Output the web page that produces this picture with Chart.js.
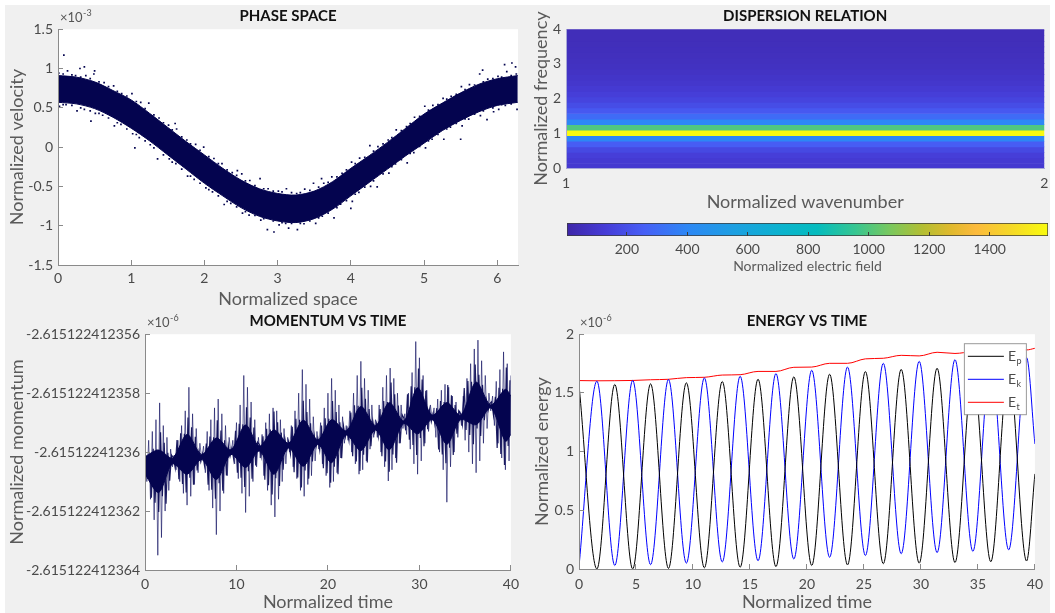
<!DOCTYPE html>
<html>
<head>
<meta charset="utf-8">
<title>Plasma simulation</title>
<script src="https://cdn.jsdelivr.net/npm/chart.js@4.4.1/dist/chart.umd.min.js"></script>
<style>
  html, body { margin: 0; padding: 0; background: #fff; }
  #fig { position: relative; width: 1055px; height: 613px; overflow: hidden; }
  #panel { position: absolute; left: 5px; top: 5px; width: 1045px; height: 608px; background: #f0f0f0; }
  canvas { position: absolute; }
</style>
</head>
<body>
<div id="fig">
  <div id="panel"></div>
  <canvas id="phaseChart" width="530" height="310" style="left:0;top:0"></canvas>
  <canvas id="dispChart" width="525" height="213" style="left:530px;top:0"></canvas>
  <canvas id="cbarChart" width="525" height="70" style="left:530px;top:210px"></canvas>
  <canvas id="momChart" width="530" height="308" style="left:0;top:305px"></canvas>
  <canvas id="energyChart" width="525" height="308" style="left:530px;top:305px"></canvas>
</div>
<script>
// ---------- phase space (velocity in units of 1e-3) ----------
const phaseX = [0, 0.25, 0.5, 0.75, 1, 1.25, 1.5, 1.75, 2, 2.25, 2.5, 2.75, 3, 3.25, 3.5, 3.75, 4, 4.25, 4.5, 4.75, 5, 5.25, 5.5, 5.75, 6, 6.28];
const phaseUpper = [0.91, 0.89, 0.83, 0.72, 0.60, 0.43, 0.25, 0.07, -0.10, -0.27, -0.42, -0.53, -0.59, -0.61, -0.56, -0.44, -0.27, -0.11, 0.06, 0.24, 0.42, 0.56, 0.69, 0.80, 0.87, 0.91];
const phaseLower = [0.57, 0.55, 0.49, 0.38, 0.24, 0.08, -0.10, -0.28, -0.46, -0.62, -0.77, -0.88, -0.94, -0.96, -0.91, -0.79, -0.62, -0.45, -0.28, -0.11, 0.05, 0.21, 0.34, 0.45, 0.53, 0.57];
// particles scattered around the edges of the dense band
const phaseDots = [
  // upper edge
  [0.01, 0.94], [0.13, 0.97], [0.24, 0.91], [0.38, 0.91], [0.49, 0.93], [0.63, 0.82], [0.76, 0.78], [0.87, 0.68],
  [1.01, 0.68], [1.13, 0.57], [1.24, 0.56], [1.38, 0.37], [1.51, 0.28], [1.62, 0.23], [1.76, 0.09], [1.88, 0.035],
  [1.99, 0.0], [2.13, -0.145], [2.24, -0.21], [2.38, -0.325], [2.51, -0.34], [2.62, -0.425], [2.76, -0.40], [2.87, -0.53],
  [3.01, -0.56], [3.12, -0.53], [3.26, -0.59], [3.37, -0.535], [3.49, -0.46], [3.63, -0.46], [3.74, -0.38], [3.88, -0.335],
  [4.01, -0.19], [4.12, -0.14], [4.26, 0.02], [4.37, 0.005], [4.51, 0.09], [4.62, 0.22], [4.76, 0.26], [4.87, 0.38],
  [5.01, 0.52], [5.12, 0.53], [5.26, 0.62], [5.37, 0.645], [5.51, 0.77], [5.62, 0.795], [5.76, 0.93], [5.87, 0.865],
  [6.01, 0.90], [6.13, 0.96], [6.26, 0.93],
  [0.07, 0.93], [0.19, 0.92], [0.31, 0.89], [0.44, 0.87], [0.56, 0.83], [0.69, 0.77], [0.81, 0.71], [0.94, 0.65],
  [1.07, 0.58], [1.19, 0.49], [1.31, 0.41], [1.44, 0.31], [1.56, 0.22], [1.69, 0.13], [1.81, 0.04], [1.94, -0.04],
  [2.06, -0.12], [2.19, -0.21], [2.31, -0.29], [2.44, -0.36], [2.56, -0.43], [2.69, -0.49], [2.81, -0.53], [2.94, -0.56],
  [3.06, -0.57], [3.19, -0.58], [3.31, -0.58], [3.44, -0.55], [3.56, -0.51], [3.69, -0.45], [3.81, -0.38], [3.94, -0.29],
  [4.06, -0.21], [4.19, -0.13], [4.31, -0.05], [4.44, 0.04], [4.56, 0.12], [4.69, 0.21], [4.81, 0.30], [4.94, 0.39],
  [5.06, 0.47], [5.19, 0.54], [5.31, 0.61], [5.44, 0.67], [5.56, 0.73], [5.69, 0.79], [5.81, 0.83], [5.94, 0.87],
  [6.06, 0.89], [6.19, 0.91],
  // lower edge
  [0.02, 0.52], [0.11, 0.54], [0.26, 0.46], [0.36, 0.48], [0.51, 0.43], [0.61, 0.405], [0.77, 0.27], [0.86, 0.29],
  [1.02, 0.17], [1.11, 0.12], [1.26, 0.03], [1.36, -0.15], [1.52, -0.15], [1.61, -0.21], [1.77, -0.37], [1.86, -0.41],
  [2.02, -0.52], [2.11, -0.57], [2.27, -0.73], [2.36, -0.715], [2.52, -0.84], [2.61, -0.865], [2.77, -0.93], [2.86, -1.05],
  [3.02, -0.99], [3.11, -0.97], [3.27, -1.05], [3.36, -0.975], [3.52, -0.97], [3.61, -0.88], [3.77, -0.90], [3.86, -0.725],
  [4.02, -0.69], [4.11, -0.575], [4.27, -0.50], [4.36, -0.505], [4.52, -0.33], [4.61, -0.215], [4.77, -0.20], [4.86, -0.07],
  [5.02, -0.01], [5.11, 0.10], [5.27, 0.10], [5.36, 0.255], [5.52, 0.27], [5.61, 0.355], [5.77, 0.40], [5.86, 0.35],
  [6.02, 0.48], [6.11, 0.53], [6.27, 0.48],
  [0.07, 0.54], [0.19, 0.53], [0.31, 0.50], [0.44, 0.46], [0.56, 0.43], [0.69, 0.37], [0.81, 0.31], [0.94, 0.23],
  [1.07, 0.16], [1.19, 0.08], [1.31, -0.01], [1.44, -0.10], [1.56, -0.19], [1.69, -0.28], [1.81, -0.37], [1.94, -0.46],
  [2.06, -0.54], [2.19, -0.62], [2.31, -0.69], [2.44, -0.76], [2.56, -0.82], [2.69, -0.87], [2.81, -0.91], [2.94, -0.94],
  [3.06, -0.96], [3.19, -0.97], [3.31, -0.97], [3.44, -0.94], [3.56, -0.90], [3.69, -0.84], [3.81, -0.77], [3.94, -0.68],
  [4.06, -0.60], [4.19, -0.51], [4.31, -0.43], [4.44, -0.34], [4.56, -0.25], [4.69, -0.16], [4.81, -0.08], [4.94, 0.01],
  [5.06, 0.08], [5.19, 0.16], [5.31, 0.23], [5.44, 0.30], [5.56, 0.36], [5.69, 0.42], [5.81, 0.46], [5.94, 0.50],
  [6.06, 0.54], [6.19, 0.55],
  // outliers
  [0.08, 1.17], [0.36, 1.02], [0.3, 1.0], [0.5, 0.97], [0.0, 0.38], [0.45, 0.33], [1.05, -0.01], [1.6, 0.3],
  [2.45, -0.3], [2.95, -1.08], [3.15, -1.03], [3.6, -0.4], [4.0, -0.78], [5.5, 0.1], [5.95, 0.45], [5.8, 0.98],
  [6.1, 1.05], [6.2, 1.07], [6.25, 1.02]
];
const phaseXTicks = [0, 1, 2, 3, 4, 5, 6];
const phaseYTicks = [-1.5, -1, -0.5, 0, 0.5, 1, 1.5];

// ---------- dispersion relation ----------
const dispFreq = [0.05, 0.21, 0.37, 0.53, 0.69, 0.85, 1.01, 1.17, 1.33, 1.49, 1.65, 1.81, 1.97, 2.13, 2.29, 2.45, 2.61, 2.77, 2.93, 3.09, 3.25, 3.41, 3.57, 3.73, 3.89, 4.05];
const dispField = [110, 115, 135, 175, 250, 400, 1590, 1000, 400, 300, 230, 190, 160, 135, 115, 100, 88, 78, 70, 64, 59, 55, 52, 49, 47, 45];
const dispYTicks = [0, 1, 2, 3, 4];
const dispXTicks = [1, 2];
const cbarMin = 2;
const cbarMax = 1593;
const cbarTicks = [200, 400, 600, 800, 1000, 1200, 1400];

// ---------- momentum (offset from -2.61512241236e-6, units of 1e-18) ----------
const momDt = 0.2;
const momVals = [
  -0.1, -1.0, 0.4, -1.6, 0.7, -2.3, 1.1, -3.5, 1.67, -2.9, 0.9, -2.0, 0.5, -1.3, 0.1, -0.5,
  -0.1, -0.6, 0.4, -1.0, 0.9, -1.4, 1.4, -1.8, 2.2, -1.5, 1.3, -1.1, 0.8, -0.7, 0.3, -0.25,
  0.2, -0.7, 0.7, -1.3, 1.1, -1.9, 1.5, -2.8, 1.8, -2.0, 1.3, -1.4, 0.9, -0.8, 0.5, -0.1,
  0.4, -0.4, 1.0, -0.9, 1.6, -1.4, 2.6, -2.05, 2.2, -1.5, 1.7, -1.0, 1.1, -0.5, 0.5,
  -0.2, 0.6, -0.8, 1.0, -1.3, 1.3, -1.8, 1.5, -2.2, 1.4, -1.6, 1.1, -1.0, 0.8, -0.4, 0.5,
  0.0, 0.9, -0.5, 1.4, -0.9, 2.0, -1.3, 2.8, -1.5, 2.3, -1.1, 1.8, -0.8, 1.2, -0.3, 0.7,
  0.1, 1.0, -0.4, 1.5, -0.8, 2.0, -1.2, 2.5, -1.0, 2.1, -0.7, 1.6, -0.2, 1.2, 0.3, 0.9,
  0.4, 1.4, 0.0, 2.0, -0.4, 2.6, -0.75, 3.08, -0.6, 2.5, -0.3, 2.1, 0.1, 1.6, 0.5, 1.1,
  0.5, 1.6, 0.0, 2.2, -0.5, 2.6, -0.98, 2.85, -0.6, 2.5, -0.2, 2.0, 0.3, 1.6, 0.8,
  1.3, 0.6, 2.0, 0.1, 2.7, -0.4, 3.75, -0.75, 3.2, -0.3, 2.6, 0.3, 2.1, 0.7, 1.6, 1.1,
  1.5, 0.5, 1.8, 0.0, 2.1, -0.6, 2.3, -1.7, 2.2, -0.5, 1.9, 0.0, 1.7, 0.5, 1.4,
  0.9, 1.9, 0.4, 2.5, 0.0, 3.0, -0.4, 3.5, -0.7, 3.8, -0.3, 3.1, 0.3, 2.6, 0.8, 2.0, 1.4,
  1.9, 0.9, 2.4, 0.3, 2.8, -0.2, 3.4, -0.6, 3.0, -0.3, 2.6
];
// second, denser trace sampled half a step later (t = 0.1, 0.3, ...)
const momT0b = 0.1;
const momValsB = [
  -0.32, -0.9, -0.13, -1.55, 0.11, -1.72, 0.09, -2.03, 0.67, -1.5, 0.32, -1.75, -0.02, -0.97, -0.1,
  -0.18, -0.54, 0.41, -0.92, 0.64, -1.08, 0.62, -1.37, 1.17, -0.87, 0.84, -1.11, 0.52, -0.62, 0.01, -0.33,
  -0.07, -0.45, 0.29, -1.11, 0.53, -1.28, 0.5, -1.58, 1.08, -1.06, 0.73, -1.31, 0.4, -0.79, 0.22, -0.14,
  0.13, -0.25, 0.72, -0.7, 0.96, -0.87, 0.94, -1.18, 1.52, -0.65, 1.17, -0.9, 0.83, -0.45, 0.34,
  0.26, -0.14, 0.54, -0.94, 0.79, -1.12, 0.77, -1.44, 1.38, -0.89, 1.01, -1.15, 0.66, -0.6, 0.45, 0.08,
  0.36, -0.06, 0.86, -0.68, 1.13, -0.86, 1.1, -1.2, 1.74, -0.62, 1.36, -0.9, 0.98, -0.32, 0.57, 0.18,
  0.47, 0.07, 0.9, -0.55, 1.15, -0.72, 1.13, -1.04, 1.73, -0.5, 1.36, -0.75, 1.01, -0.21, 0.88, 0.51,
  0.79, 0.39, 1.34, -0.14, 1.59, -0.32, 1.57, -0.64, 2.18, -0.09, 1.81, -0.35, 1.46, 0.2, 1.05, 0.68,
  0.97, 0.54, 1.46, -0.14, 1.73, -0.32, 1.7, -0.67, 2.36, -0.08, 1.96, -0.36, 1.58, 0.3, 1.27,
  1.16, 0.74, 1.96, 0.42, 2.23, 0.24, 2.2, -0.1, 2.84, 0.48, 2.46, 0.2, 2.08, 0.78, 1.42, 1.03,
  1.31, 0.93, 1.49, 0.09, 1.73, -0.08, 1.7, -0.38, 2.28, 0.15, 1.93, -0.1, 1.6, 0.62, 1.4,
  1.31, 0.93, 2.17, 0.75, 2.41, 0.58, 2.39, 0.27, 2.97, 0.8, 2.62, 0.55, 2.28, 1.08, 1.77, 1.41, 1.65,
  1.71, 1.24, 1.88, 0.14, 2.18, -0.06, 2.15, -0.44, 2.87, 0.21, 2.44
];
// the solid, densest part of each beat
const momCoreT = [0, 1.5, 3.0, 4.6, 6.2, 7.8, 9.4, 11.0, 12.5, 14.1, 15.7, 17.3, 18.9, 20.4, 22.0, 23.6, 25.2, 26.7, 28.3, 29.8, 31.4, 33.0, 34.5, 36.2, 37.8, 39.4, 40];
const momCoreHi = [-0.15, 0.07, -0.2, 0.6, -0.08, 0.48, 0.08, 0.92, 0.2, 0.75, 0.3, 1.08, 0.41, 1.1, 0.72, 1.55, 0.9, 1.68, 1.06, 2.18, 1.25, 1.68, 1.25, 2.37, 1.6, 2.13, 1.9];
const momCoreLo = [-0.75, -1.37, -0.4, -0.75, -0.25, -0.93, -0.08, -0.52, 0.04, -0.75, 0.14, -0.48, 0.26, -0.36, 0.58, 0.05, 0.75, 0.08, 0.97, 0.62, 1.1, 0.27, 1.1, 0.93, 1.5, 0.37, 0.6];
const momXTicks = [0, 10, 20, 30, 40];
const momYTicks = [-4, -2, 0, 2, 4];
const momYLabels = ['-2.615122412364', '-2.615122412362', '-2.61512241236', '-2.615122412358', '-2.615122412356'];

// ---------- energy (units of 1e-6) ----------
const energyT = [0, 1.57, 3.14, 4.71, 6.28, 7.85, 9.42, 11.0, 12.57, 14.14, 15.71, 17.28, 18.85, 20.42, 21.99, 23.56, 25.13, 26.7, 28.27, 29.85, 31.42, 32.99, 34.56, 36.13, 37.7, 39.27, 40];
const energyEp = [1.57, 0.0, 1.572, 0.0, 1.577, 0.005, 1.586, 0.01, 1.597, 0.015, 1.617, 0.02, 1.637, 0.03, 1.659, 0.035, 1.682, 0.045, 1.70, 0.05, 1.71, 0.055, 1.70, 0.062, 1.72, 0.068, 0.81];
const energyEk = [0.02, 1.60, 0.03, 1.606, 0.037, 1.614, 0.05, 1.628, 0.06, 1.642, 0.07, 1.665, 0.085, 1.693, 0.10, 1.72, 0.115, 1.752, 0.13, 1.769, 0.14, 1.783, 0.15, 1.79, 0.163, 1.80, 1.065];
const energyEt = [1.605, 1.603, 1.604, 1.606, 1.612, 1.616, 1.63, 1.633, 1.652, 1.655, 1.683, 1.683, 1.718, 1.72, 1.752, 1.752, 1.79, 1.795, 1.82, 1.815, 1.846, 1.836, 1.85, 1.848, 1.88, 1.866, 1.88];
const energyXTicks = [0, 5, 10, 15, 20, 25, 30, 35, 40];
const energyYTicks = [0, 0.5, 1, 1.5, 2];

// parula-like colour map
const parulaStops = [
  [0.00, 62, 38, 168], [0.08, 70, 60, 215], [0.16, 71, 95, 246], [0.25, 45, 135, 245],
  [0.35, 28, 160, 225], [0.45, 10, 180, 205], [0.52, 5, 188, 190], [0.60, 55, 198, 145],
  [0.67, 120, 200, 95], [0.74, 180, 190, 50], [0.80, 225, 185, 45], [0.85, 252, 186, 60],
  [0.92, 245, 215, 40], [1.00, 249, 251, 14]
];

const FONT = 'Lato, "DejaVu Sans", sans-serif';
const NAVY = '#04044f';
const AXIS_GRAY = '#8a8a8a';

Chart.defaults.font.family = FONT;
Chart.defaults.font.size = 14;
Chart.defaults.color = '#4a4a4a';
Chart.defaults.animation = false;
Chart.defaults.plugins.legend.display = false;
Chart.defaults.plugins.tooltip.enabled = false;

function parulaColor(v) {
  const f = Math.min(1, Math.max(0, (v - cbarMin) / (cbarMax - cbarMin)));
  for (let i = 1; i < parulaStops.length; i++) {
    const a = parulaStops[i - 1], b = parulaStops[i];
    if (f <= b[0]) {
      const t = (f - a[0]) / (b[0] - a[0]);
      const c = [1, 2, 3].map(k => Math.round(a[k] + (b[k] - a[k]) * t));
      return 'rgb(' + c.join(',') + ')';
    }
  }
  return 'rgb(249,251,14)';
}

// build one axis with MATLAB look (inward ticks, no grid)
function makeAxis(cfg) {
  return {
    type: 'linear',
    display: cfg.display !== false,
    min: cfg.min,
    max: cfg.max,
    offset: false,
    afterBuildTicks: s => { s.ticks = cfg.ticks.map(v => ({ value: v })); },
    afterFit: s => {
      if (cfg.width !== undefined) s.width = cfg.width;
      if (cfg.height !== undefined) s.height = cfg.height;
    },
    grid: { drawOnChartArea: false, drawTicks: cfg.drawTicks !== false, tickLength: cfg.tickLength || -5, color: cfg.tickColor || AXIS_GRAY, z: 1 },
    border: { display: cfg.border !== false, color: cfg.borderColor || AXIS_GRAY, z: 1 },
    ticks: {
      padding: cfg.tickPad,
      autoSkip: false,
      maxRotation: 0,
      color: '#4a4a4a',
      callback: cfg.callback || (v => v)
    },
    title: {
      display: !!cfg.title,
      text: cfg.title,
      color: '#5a5a5a',
      font: { size: cfg.titleSize || 18 },
      padding: cfg.titlePad || 0
    }
  };
}

function makeTitle(text) {
  return {
    display: true,
    text: text,
    color: '#111',
    fullSize: false,
    font: { size: 15, weight: 'bold' },
    padding: { top: 7.6, bottom: 3.6 }
  };
}

const whiteArea = {
  id: 'whiteArea',
  beforeDraw(chart) {
    const { ctx, chartArea: a } = chart;
    ctx.save();
    ctx.fillStyle = '#fff';
    ctx.fillRect(a.left, a.top, a.right - a.left, a.bottom - a.top);
    ctx.restore();
  }
};

// the "x10^n" multiplier above the y axis
function expLabel(sup, dx) {
  return {
    id: 'expLabel',
    afterDraw(chart) {
      const { ctx, chartArea } = chart;
      const x = chartArea.left + dx;
      ctx.save();
      ctx.fillStyle = '#555';
      ctx.textBaseline = 'alphabetic';
      ctx.font = '13px ' + FONT;
      ctx.fillText('\u00d710', x, 21.5);
      const w = ctx.measureText('\u00d710').width;
      ctx.font = '9px ' + FONT;
      ctx.fillText(sup, x + w + 0.5, 15.5);
      ctx.restore();
    }
  };
}

// ---------- phase space ----------
new Chart(document.getElementById('phaseChart'), {
  type: 'line',
  data: {
    datasets: [
      {
        type: 'scatter',
        data: phaseDots.map(p => ({ x: p[0], y: p[1] })),
        pointStyle: 'rect',
        pointRadius: 1.2,
        backgroundColor: NAVY,
        borderWidth: 0
      },
      {
        data: phaseX.map((x, i) => ({ x: x, y: phaseUpper[i] })),
        borderColor: NAVY,
        borderWidth: 1,
        pointRadius: 0,
        tension: 0.3,
        fill: '+1',
        backgroundColor: NAVY
      },
      {
        data: phaseX.map((x, i) => ({ x: x, y: phaseLower[i] })),
        borderColor: NAVY,
        borderWidth: 1,
        pointRadius: 0,
        tension: 0.3,
        fill: false
      }
    ]
  },
  options: {
    responsive: false,
    layout: { padding: { left: 0, right: 12, top: 0, bottom: 0 } },
    plugins: { title: makeTitle('PHASE SPACE') },
    scales: {
      x: makeAxis({ min: 0, max: 6.2832, ticks: phaseXTicks, height: 45, tickPad: 10, title: 'Normalized space' }),
      y: makeAxis({ min: -1.5, max: 1.5, ticks: phaseYTicks, width: 58, tickPad: 10, title: 'Normalized velocity', titlePad: { top: 6 } })
    }
  },
  plugins: [whiteArea, expLabel('-3', 2)]
});

// ---------- dispersion relation ----------
new Chart(document.getElementById('dispChart'), {
  type: 'bar',
  data: {
    datasets: [{
      data: dispFreq.map(f => ({ x: [1, 2], y: f })),
      backgroundColor: dispField.map(parulaColor),
      borderWidth: 0,
      barPercentage: 1,
      categoryPercentage: 1
    }]
  },
  options: {
    responsive: false,
    indexAxis: 'y',
    layout: { padding: { left: 0, right: 7, top: 0, bottom: 0 } },
    plugins: { title: makeTitle('DISPERSION RELATION') },
    scales: {
      x: makeAxis({ min: 1, max: 2, ticks: dispXTicks, height: 45, tickPad: 6.6, drawTicks: false, borderColor: '#a8a8d8', title: 'Normalized wavenumber' }),
      y: makeAxis({ min: 0, max: 4, ticks: dispYTicks, width: 36, tickPad: 5, drawTicks: false, borderColor: '#a8a8d8', title: 'Normalized frequency', titlePad: { top: 0 } })
    }
  }
});

// ---------- colour bar ----------
new Chart(document.getElementById('cbarChart'), {
  type: 'bar',
  data: {
    labels: ['field'],
    datasets: [{
      data: [[cbarMin, cbarMax]],
      backgroundColor: (c) => {
        const chart = c.chart;
        if (!chart.chartArea) return parulaColor(cbarMin);
        const xs = chart.scales.x;
        const g = chart.ctx.createLinearGradient(xs.getPixelForValue(cbarMin), 0, xs.getPixelForValue(cbarMax), 0);
        parulaStops.forEach(s => g.addColorStop(s[0], 'rgb(' + s[1] + ',' + s[2] + ',' + s[3] + ')'));
        return g;
      },
      borderColor: '#3c3c3c',
      borderWidth: 1,
      borderSkipped: false,
      barPercentage: 1,
      categoryPercentage: 1
    }]
  },
  options: {
    responsive: false,
    indexAxis: 'y',
    layout: { padding: { left: 37, right: 7, top: 13, bottom: 0 } },
    scales: {
      x: makeAxis({ min: cbarMin, max: cbarMax, ticks: cbarTicks, height: 44, tickPad: 8.6, tickLength: -4, tickColor: '#3c3c3c', border: false,
        title: 'Normalized electric field', titleSize: 14, titlePad: { top: 0, bottom: 5.6 } }),
      y: { display: false }
    }
  }
});

// ---------- momentum vs time ----------
new Chart(document.getElementById('momChart'), {
  type: 'line',
  data: {
    datasets: [
      {
        data: momCoreT.map((t, i) => ({ x: t, y: momCoreHi[i] })),
        borderColor: NAVY,
        borderWidth: 1,
        pointRadius: 0,
        tension: 0.3,
        fill: '+1',
        backgroundColor: NAVY
      },
      {
        data: momCoreT.map((t, i) => ({ x: t, y: momCoreLo[i] })),
        borderColor: NAVY,
        borderWidth: 1,
        pointRadius: 0,
        tension: 0.3,
        fill: false
      },
      {
        data: momValsB.map((v, i) => ({ x: momT0b + i * momDt, y: v })),
        borderColor: 'rgba(4,4,80,0.9)',
        borderWidth: 1.2,
        pointRadius: 0,
        tension: 0,
        fill: false
      },
      {
        data: momVals.map((v, i) => ({ x: i * momDt, y: v })),
        borderColor: 'rgba(8,8,92,0.6)',
        borderWidth: 1,
        pointRadius: 0,
        tension: 0,
        fill: false
      }
    ]
  },
  options: {
    responsive: false,
    layout: { padding: { left: 0, right: 16, top: 0, bottom: 0 } },
    plugins: { title: makeTitle('MOMENTUM VS TIME') },
    scales: {
      x: makeAxis({ min: 0, max: 40, ticks: momXTicks, height: 43, tickPad: 11, title: 'Normalized time' }),
      y: makeAxis({ min: -4, max: 4, ticks: momYTicks, width: 145, tickPad: 10, title: 'Normalized momentum', titlePad: { top: 6.5 },
        callback: v => momYLabels[momYTicks.indexOf(v)] })
    }
  },
  plugins: [whiteArea, expLabel('-6', 2)]
});

// ---------- energy vs time ----------
const energyLegend = {
  id: 'energyLegend',
  afterDraw(chart) {
    const { ctx, chartArea } = chart;
    const w = 62, h = 71;
    const x0 = chartArea.right - 9 - w;
    const y0 = chartArea.top + 9;
    ctx.save();
    ctx.fillStyle = '#fff';
    ctx.fillRect(x0, y0, w, h);
    ctx.strokeStyle = '#9a9a9a';
    ctx.lineWidth = 1;
    ctx.strokeRect(x0 + 0.5, y0 + 0.5, w, h);
    chart.data.datasets.forEach((ds, i) => {
      const y = y0 + 12.6 + i * 23;
      ctx.strokeStyle = ds.borderColor;
      ctx.beginPath();
      ctx.moveTo(x0 + 4, y + 0.5);
      ctx.lineTo(x0 + 40, y + 0.5);
      ctx.stroke();
      ctx.fillStyle = '#4a4a4a';
      ctx.textBaseline = 'alphabetic';
      ctx.font = '14px ' + FONT;
      ctx.fillText(ds.label.charAt(0), x0 + 44, y + 5);
      const ew = ctx.measureText(ds.label.charAt(0)).width;
      ctx.font = '9px ' + FONT;
      ctx.fillText(ds.label.slice(1), x0 + 44 + ew + 0.5, y + 8);
    });
    ctx.restore();
  }
};

new Chart(document.getElementById('energyChart'), {
  type: 'line',
  data: {
    datasets: [
      { label: 'Ep', data: energyT.map((t, i) => ({ x: t, y: energyEp[i] })), borderColor: '#000000' },
      { label: 'Ek', data: energyT.map((t, i) => ({ x: t, y: energyEk[i] })), borderColor: '#0000ff' },
      { label: 'Et', data: energyT.map((t, i) => ({ x: t, y: energyEt[i] })), borderColor: '#ff0000' }
    ].map(ds => Object.assign(ds, { borderWidth: 1, pointRadius: 0, fill: false, cubicInterpolationMode: 'monotone' }))
  },
  options: {
    responsive: false,
    layout: { padding: { left: 0, right: 11, top: 0, bottom: 0 } },
    plugins: { title: makeTitle('ENERGY VS TIME') },
    scales: {
      x: makeAxis({ min: 0, max: 40, ticks: energyXTicks, height: 44, tickPad: 12, title: 'Normalized time' }),
      y: makeAxis({ min: 0, max: 2, ticks: energyYTicks, width: 49, tickPad: 10, title: 'Normalized energy', titlePad: { top: 1 } })
    }
  },
  plugins: [whiteArea, expLabel('-6', 1), energyLegend]
});
</script>
</body>
</html>
